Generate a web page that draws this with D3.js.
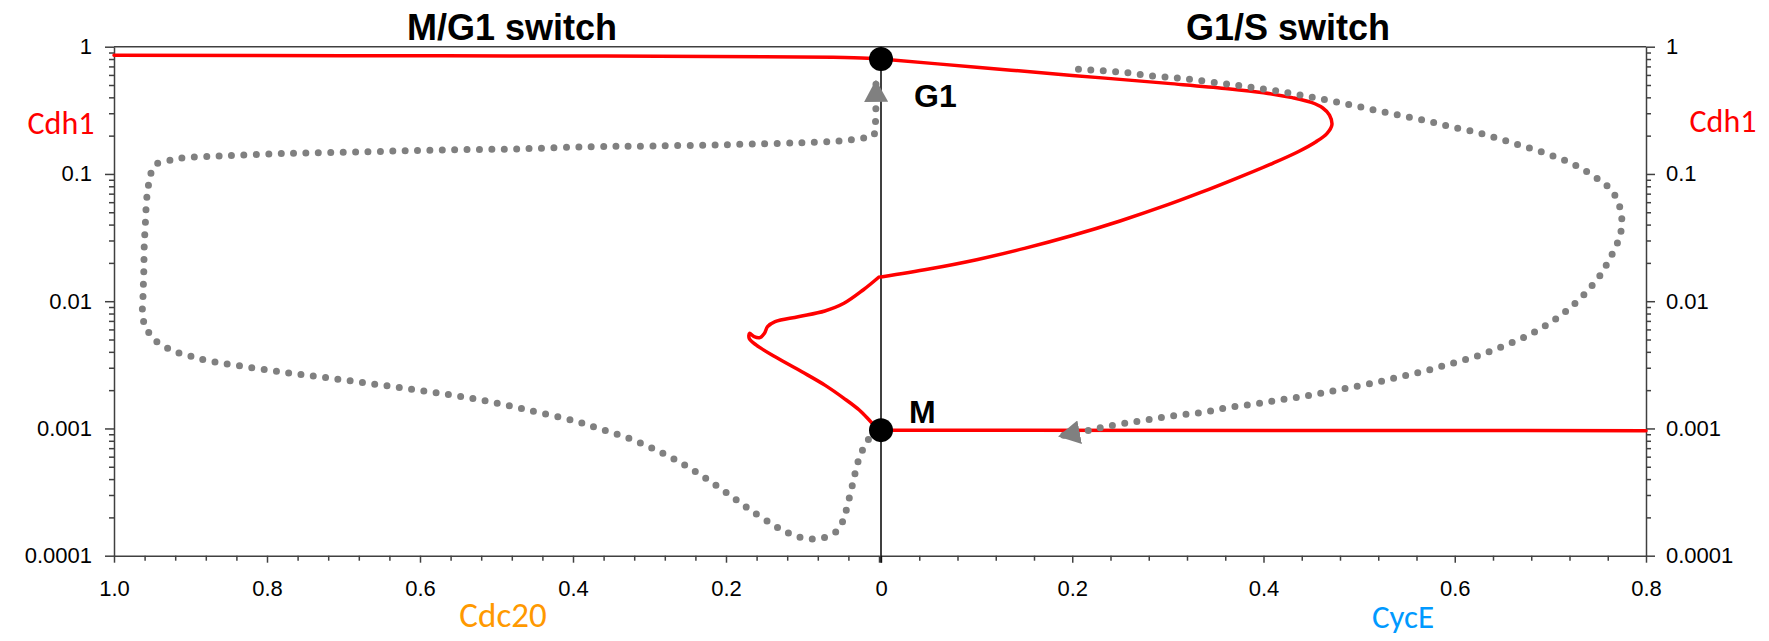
<!DOCTYPE html>
<html>
<head>
<meta charset="utf-8">
<script src="https://d3js.org/d3.v7.min.js"></script>
<style>
body { margin: 0; background: #fff; }
svg { display: block; }
.tick text { font-family: "Liberation Sans", Arial, sans-serif; font-size: 22px; fill: #000; }
</style>
</head>
<body>
<div id="chart"></div>
<script>
// red steady state curve, 4 pieces (left = Cdc20 side, right = CycE side)
var redTopCdc20 = [1.0, 0.7, 0.37, 0.15, 0.06, 0.015, 0];
var redTopCdh1 = [0.855, 0.85, 0.845, 0.835, 0.826, 0.812, 0.80];

var redLoopCycE = [0, 0.1, 0.2, 0.3, 0.36, 0.4, 0.43, 0.45, 0.462, 0.469, 0.4715, 0.4665, 0.455, 0.4362, 0.4096, 0.3717, 0.3337, 0.3, 0.25, 0.2, 0.15, 0.1, 0.05, 0];
var redLoopCdh1 = [0.80, 0.69, 0.595, 0.515, 0.47, 0.435, 0.398, 0.365, 0.33, 0.29, 0.2425, 0.2087, 0.1793, 0.1496, 0.1213, 0.0924, 0.0712, 0.0573, 0.0427, 0.0328, 0.026, 0.0212, 0.0179, 0.0155];

var redMidCdc20 = [0, 0.0208, 0.0458, 0.0708, 0.1057, 0.1358, 0.1457, 0.1497, 0.1557, 0.1632, 0.1692, 0.1697, 0.1607, 0.1358, 0.1008, 0.0708, 0.0458, 0.0258, 0.0108, 0];
var redMidCdh1 = [0.0155, 0.01225, 0.00963, 0.00838, 0.00755, 0.0069, 0.0063, 0.00559, 0.00517, 0.00526, 0.00559, 0.00511, 0.00453, 0.00366, 0.00279, 0.00219, 0.001725, 0.001396, 0.00113, 0.00097];

var redLowCycE = [0, 0.8];
var redLowCdh1 = [0.00097, 0.00096];

// grey dotted trajectory, right half (G1 -> M) and left half (M -> G1)
var dotRightCycE = [0.2065, 0.2325, 0.2565, 0.2814, 0.3065, 0.3286, 0.3546, 0.3773, 0.402, 0.4248, 0.4476, 0.471, 0.495, 0.5197, 0.5444, 0.5709, 0.5956, 0.6222, 0.6479, 0.6734, 0.70, 0.7257, 0.7512, 0.7637, 0.7709, 0.774, 0.7747, 0.7721, 0.7672, 0.7607, 0.7539, 0.7444, 0.7341, 0.7227, 0.7113, 0.6987, 0.6859, 0.6726, 0.6468, 0.621, 0.5948, 0.569, 0.5432, 0.5178, 0.4912, 0.4658, 0.44, 0.4141, 0.3887, 0.3621, 0.3367, 0.3106, 0.2845, 0.2593, 0.2345, 0.2225, 0.1872];
var dotRightCdh1 = [0.6645, 0.6478, 0.6248, 0.5917, 0.5706, 0.5474, 0.5159, 0.4911, 0.4627, 0.435, 0.4046, 0.3744, 0.3438, 0.3141, 0.287, 0.2607, 0.235, 0.2125, 0.1872, 0.1637, 0.1409, 0.1175, 0.0896, 0.0748, 0.0599, 0.0491, 0.0392, 0.03155, 0.02558, 0.0207, 0.01675, 0.01348, 0.01104, 0.00917, 0.00779, 0.0067, 0.00586, 0.0052, 0.00431, 0.00366, 0.00321, 0.00283, 0.00255, 0.0023, 0.0021, 0.00193, 0.00178, 0.00166, 0.00155, 0.001456, 0.001339, 0.001275, 0.001187, 0.00111, 0.001032, 0.000985, 0.000872];

var dotLeftCdc20 = [0.0033, 0.0158, 0.0268, 0.0343, 0.0418, 0.0458, 0.0548, 0.0708, 0.0872, 0.1033, 0.1192, 0.1358, 0.1681, 0.2007, 0.2332, 0.2657, 0.298, 0.3305, 0.3631, 0.3944, 0.4594, 0.5243, 0.5893, 0.6542, 0.7192, 0.7841, 0.8491, 0.8816, 0.8975, 0.914, 0.9275, 0.9415, 0.9514, 0.958, 0.9625, 0.962, 0.961, 0.9605, 0.959, 0.9574, 0.9555, 0.953, 0.9465, 0.9305, 0.914, 0.8641, 0.7691, 0.6692, 0.5744, 0.4769, 0.3794, 0.298, 0.2007, 0.1033, 0.0557, 0.0218, 0.0073, 0.005, 0.004, 0.004];
var dotLeftCdh1 = [0.000973, 0.000787, 0.000562, 0.000368, 0.000241, 0.000197, 0.000157, 0.0001395, 0.0001353, 0.0001395, 0.0001516, 0.0001711, 0.0002286, 0.0003167, 0.000431, 0.000565, 0.000706, 0.000852, 0.000985, 0.00113, 0.0014, 0.001694, 0.001944, 0.002207, 0.002491, 0.002793, 0.003193, 0.00345, 0.003664, 0.003897, 0.004211, 0.004668, 0.005326, 0.00619, 0.00747, 0.01133, 0.01758, 0.0268, 0.04095, 0.0624, 0.0771, 0.0951, 0.1176, 0.1264, 0.1327, 0.1384, 0.1453, 0.1496, 0.1543, 0.1572, 0.1637, 0.1658, 0.1698, 0.176, 0.1806, 0.1906, 0.1998, 0.238, 0.36, 0.53];

// the two marked states
var stateNames = ["G1", "M"];
var stateCdh1 = [0.80, 0.00097];

// tick labels
var yTicks = [1, 0.1, 0.01, 0.001, 0.0001];
var yLabels = ["1", "0.1", "0.01", "0.001", "0.0001"];
var xLeftTicks = [1.0, 0.8, 0.6, 0.4, 0.2, 0];
var xLeftLabels = ["1.0", "0.8", "0.6", "0.4", "0.2", ""];
var xRightTicks = [0, 0.2, 0.4, 0.6, 0.8];
var xRightLabels = ["0", "0.2", "0.4", "0.6", "0.8"];

var width = 1769, height = 641;
var box = {left: 114, mid: 879, midR: 881, right: 1646, top: 46.7, bottom: 555.7};
var axisColor = "#404040";
var red = "#ff0000", grey = "#808080";

var svg = d3.select("#chart").append("svg")
    .attr("width", width)
    .attr("height", height);

var xLeft = d3.scaleLinear().domain([1, 0]).range([box.left, box.mid]);
var xRight = d3.scaleLinear().domain([0, 0.8]).range([box.midR, box.right]);
var y = d3.scaleLog().domain([0.0001, 1]).range([box.bottom, box.top]);

// minor tick positions
var yMinor = [];
[0.0001, 0.001, 0.01, 0.1].forEach(function(dec) {
    for (var k = 2; k <= 9; k++) yMinor.push(dec * k);
});
var xLeftMinor = d3.range(0, 1.0001, 0.04).filter(function(v) { return Math.abs(v * 5 - Math.round(v * 5)) > 0.01; });
var xRightMinor = d3.range(0, 0.8001, 0.04).filter(function(v) { return Math.abs(v * 5 - Math.round(v * 5)) > 0.01; });

function styleAxis(g) {
    g.select(".domain").attr("stroke", axisColor).attr("stroke-width", 1.5);
    g.selectAll(".tick line").attr("stroke", axisColor).attr("stroke-width", 1.5);
    // drop empty labels
    g.selectAll(".tick text").filter(function() { return this.textContent === ""; }).remove();
}
function minorAxis(axis, tx, ty) {
    svg.append("g")
        .attr("transform", `translate(${tx}, ${ty})`)
        .call(axis.tickFormat("").tickSizeOuter(0))
        .call(styleAxis)
        .call(function(g) { g.select(".domain").remove(); });
}

minorAxis(d3.axisLeft(y).tickValues(yMinor).tickSize(5), box.left, 0);
minorAxis(d3.axisRight(y).tickValues(yMinor).tickSize(5), box.right, 0);
minorAxis(d3.axisBottom(xLeft).tickValues(xLeftMinor).tickSize(5), 0, box.bottom);
minorAxis(d3.axisBottom(xRight).tickValues(xRightMinor).tickSize(5), 0, box.bottom);

// major axes
svg.append("g")
    .attr("transform", `translate(${box.left}, 0)`)
    .call(d3.axisLeft(y).tickValues(yTicks).tickSize(9).tickSizeOuter(0)
        .tickFormat(function(d, i) { return yLabels[i]; }))
    .call(styleAxis)
    .call(function(g) { g.selectAll("text").attr("x", -22); });

svg.append("g")
    .attr("transform", `translate(${box.right}, 0)`)
    .call(d3.axisRight(y).tickValues(yTicks).tickSize(9).tickSizeOuter(0)
        .tickFormat(function(d, i) { return yLabels[i]; }))
    .call(styleAxis)
    .call(function(g) { g.selectAll("text").attr("x", 20); });

svg.append("g")
    .attr("transform", `translate(0, ${box.bottom})`)
    .call(d3.axisBottom(xLeft).tickValues(xLeftTicks).tickSize(7).tickSizeOuter(0)
        .tickFormat(function(d, i) { return xLeftLabels[i]; }))
    .call(styleAxis)
    .call(function(g) { g.selectAll("text").attr("y", 40.3).attr("dy", 0); });

svg.append("g")
    .attr("transform", `translate(0, ${box.bottom})`)
    .call(d3.axisBottom(xRight).tickValues(xRightTicks).tickSize(7).tickSizeOuter(0)
        .tickFormat(function(d, i) { return xRightLabels[i]; }))
    .call(styleAxis)
    .call(function(g) { g.selectAll("text").attr("y", 40.3).attr("dy", 0); });

// top border and the middle axis line
svg.append("line")
    .attr("x1", box.left).attr("x2", box.right)
    .attr("y1", y(1)).attr("y2", y(1))
    .attr("stroke", axisColor).attr("stroke-width", 1.5);
svg.append("line")
    .attr("x1", xRight(0)).attr("x2", xRight(0))
    .attr("y1", y(1)).attr("y2", y(0.0001) + 7)
    .attr("stroke", "#000").attr("stroke-width", 1.5);

// arrow head for the trajectory
svg.append("defs").append("marker")
    .attr("id", "arrow")
    .attr("viewBox", "0 -12 22 24")
    .attr("refX", 20).attr("refY", 0)
    .attr("markerWidth", 22).attr("markerHeight", 24)
    .attr("markerUnits", "userSpaceOnUse")
    .attr("orient", "auto")
    .append("path")
    .attr("d", "M0,-12L22,0L0,12Z")
    .attr("fill", grey);

var line = d3.line().curve(d3.curveCatmullRom.alpha(0.5));

function pts(xs, ys, sx) {
    return xs.map(function(v, i) { return [sx(v), y(ys[i])]; });
}

// red curves
[
    pts(redTopCdc20, redTopCdh1, xLeft),
    pts(redLoopCycE, redLoopCdh1, xRight),
    pts(redMidCdc20, redMidCdh1, xLeft),
    pts(redLowCycE, redLowCdh1, xRight)
].forEach(function(p) {
    svg.append("path")
        .attr("d", line(p))
        .attr("fill", "none")
        .attr("stroke", red)
        .attr("stroke-width", 3.5)
        .attr("stroke-linejoin", "round")
        .attr("stroke-linecap", "round");
});

// grey dotted trajectory
[
    pts(dotRightCycE, dotRightCdh1, xRight),
    pts(dotLeftCdc20, dotLeftCdh1, xLeft)
].forEach(function(p) {
    svg.append("path")
        .attr("d", line(p))
        .attr("fill", "none")
        .attr("stroke", grey)
        .attr("stroke-width", 7)
        .attr("stroke-linecap", "round")
        .attr("stroke-dasharray", "0 12.4")
        .attr("marker-end", "url(#arrow)");
});

// G1 and M states
svg.selectAll("circle.state")
    .data(stateCdh1)
    .enter()
    .append("circle")
    .attr("class", "state")
    .attr("cx", xRight(0))
    .attr("cy", d => y(d))
    .attr("r", 12)
    .attr("fill", "#000");

svg.selectAll("text.state")
    .data(stateNames)
    .enter()
    .append("text")
    .attr("class", "state")
    .attr("x", (d, i) => xRight(0) + (i == 0 ? 33 : 28))
    .attr("y", (d, i) => y(stateCdh1[i]) + (i == 0 ? 48 : -7))
    .attr("font-family", "'Liberation Sans', Arial, sans-serif")
    .attr("font-weight", "bold")
    .attr("font-size", "32px")
    .text(d => d);

// titles
var titleFont = "'Liberation Sans', Arial, sans-serif";
svg.append("text")
    .attr("x", 512).attr("y", 40)
    .style("text-anchor", "middle")
    .attr("font-family", titleFont).attr("font-weight", "bold").attr("font-size", "36px")
    .text("M/G1 switch");
svg.append("text")
    .attr("x", 1288).attr("y", 40)
    .style("text-anchor", "middle")
    .attr("font-family", titleFont).attr("font-weight", "bold").attr("font-size", "36px")
    .text("G1/S switch");

// axis names
var nameFont = "Carlito, Lato, 'Open Sans', sans-serif";
function axisName(x, yy, txt, color, size) {
    svg.append("text")
        .attr("x", x).attr("y", yy)
        .style("text-anchor", "middle")
        .attr("font-family", nameFont).attr("font-size", size)
        .attr("fill", color)
        .text(txt);
}
axisName(61, 134, "Cdh1", red, "32px");
axisName(1723, 132, "Cdh1", red, "32px");
axisName(503, 627, "Cdc20", "#ff9900", "35px");
axisName(1403, 628, "CycE", "#0099ff", "33px");
</script>
</body>
</html>
